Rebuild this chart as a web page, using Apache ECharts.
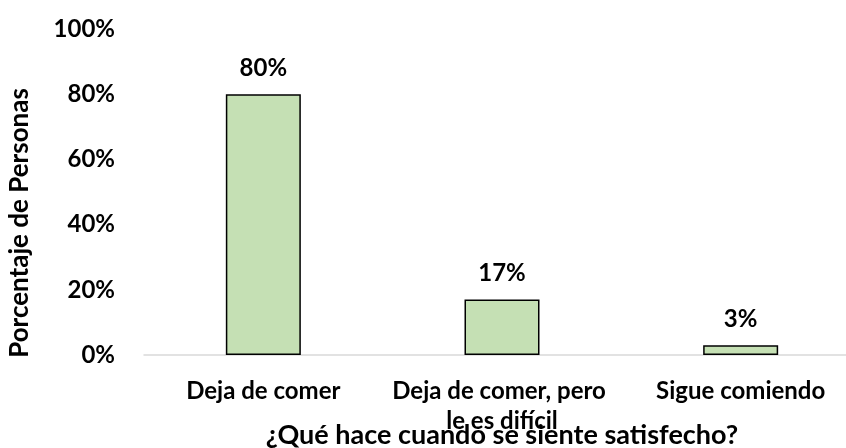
<!DOCTYPE html>
<html>
<head>
<meta charset="utf-8">
<script src="https://cdn.jsdelivr.net/npm/echarts@6/dist/echarts.min.js"></script>
<style>
  html, body { margin: 0; padding: 0; background: #fff; }
  #chart { width: 846px; height: 448px; }
</style>
</head>
<body>
<div id="chart"></div>
<script>
  // datos
  var categories = ["Deja de comer", "Deja de comer, pero le es difícil", "Sigue comiendo"];
  var values = [80, 17, 3];
  var yTicks = [0, 20, 40, 60, 80, 100];

  var fontFamily = "Lato";
  var myChart = echarts.init(document.getElementById("chart"));
  var option = {
    animation: false,
    grid: {
      left: 144,
      right: -14,
      top: 29,
      bottom: 93,
      outerBoundsMode: "none",
      containLabel: false
    },
    xAxis: {
      type: "category",
      data: categories,
      name: "¿Qué hace cuando se siente satisfecho?",
      nameLocation: "middle",
      nameGap: 67,
      nameMoveOverlap: false,
      nameTextStyle: {
        fontFamily: fontFamily,
        fontWeight: "bold",
        fontSize: 27,
        color: "#000"
      },
      axisLine: { lineStyle: { color: "#D9D9D9", width: 1.5 } },
      axisTick: { show: false },
      axisLabel: {
        interval: 0,
        margin: 21,
        fontFamily: fontFamily,
        fontWeight: "bold",
        fontSize: 24,
        color: "#000",
        width: 225,
        overflow: "break",
        lineHeight: 30
      }
    },
    yAxis: {
      type: "value",
      min: 0,
      max: 100,
      interval: 20,
      splitLine: { show: false },
      axisLine: { show: false },
      axisTick: { show: false },
      axisLabel: {
        margin: 29,
        fontFamily: fontFamily,
        fontWeight: "bold",
        fontSize: 24,
        color: "#000",
        formatter: function (v) {
          return yTicks.indexOf(v) >= 0 ? v + "%" : "";
        }
      }
    },
    graphic: [
      {
        type: "text",
        x: 20,
        y: 223,
        rotation: Math.PI / 2,
        style: {
          text: "Porcentaje de Personas",
          fontFamily: fontFamily,
          fontWeight: "bold",
          fontSize: 26,
          fill: "#000",
          align: "center",
          verticalAlign: "middle"
        }
      }
    ],
    series: [
      {
        type: "bar",
        data: values,
        barWidth: 75,
        itemStyle: {
          color: "#C5E0B4",
          borderColor: "#000",
          borderWidth: 1.5
        },
        label: {
          show: true,
          position: "top",
          distance: 14,
          formatter: "{c}%",
          fontFamily: fontFamily,
          fontWeight: "bold",
          fontSize: 24,
          color: "#000"
        }
      }
    ]
  };
  myChart.setOption(option);
</script>
</body>
</html>
